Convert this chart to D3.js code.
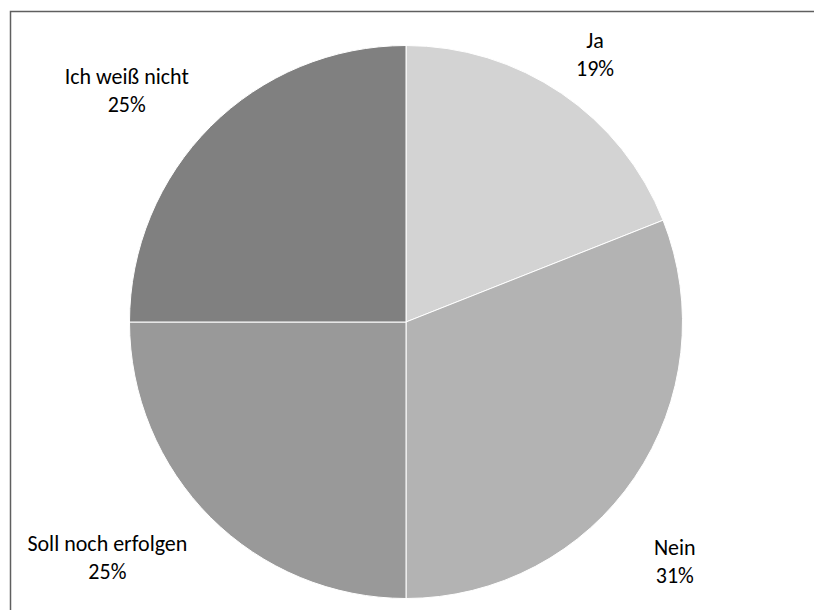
<!DOCTYPE html>
<html>
<head>
<meta charset="utf-8">
<script src="https://cdn.jsdelivr.net/npm/d3@7"></script>
<style>
  html, body { margin: 0; padding: 0; background: #fff; overflow: hidden; }
  svg { display: block; }
  text { font-family: Carlito, Calibri, Lato, "Open Sans", sans-serif; fill: #000; }
</style>
</head>
<body>
<svg id="chart" width="814" height="610"></svg>
<script>
// Survey answers and their shares (percent)
const categories = ["Ja", "Nein", "Soll noch erfolgen", "Ich weiß nicht"];
const shares = [19, 31, 25, 25];
const sliceColors = ["#d3d3d3", "#b3b3b3", "#999999", "#808080"];

// Label placement: distance from the centre and angular shift from each slice's middle
const labelDistance = [328, 360, 380, 363];
const labelShiftDeg = [1.0, 7.5, 6.8, -5.3];

const width = 814, height = 610;
const cx = 406, cy = 322, radius = 276.5;

const svg = d3.select("#chart");

// chart frame: only the top and left edges fall inside the view
svg.append("path")
  .attr("d", `M10.5,${height}V11.5H${width}`)
  .attr("fill", "none")
  .attr("stroke", "#5f5f5f")
  .attr("stroke-width", 1.5);

const data = categories.map((c, i) => ({ category: c, value: shares[i], color: sliceColors[i], i }));

const pie = d3.pie().value(d => d.value).sort(null);
const arc = d3.arc().innerRadius(0).outerRadius(radius);
const arcs = pie(data);

const g = svg.append("g").attr("transform", `translate(${cx},${cy})`);

g.selectAll("path.slice")
  .data(arcs)
  .join("path")
  .attr("class", "slice")
  .attr("d", arc)
  .attr("fill", d => d.data.color)
  .attr("stroke", "#ffffff")
  .attr("stroke-width", 1);

const labels = g.selectAll("g.label")
  .data(arcs)
  .join("g")
  .attr("class", "label")
  .attr("transform", d => {
    const a = (d.startAngle + d.endAngle) / 2 + labelShiftDeg[d.data.i] * Math.PI / 180;
    const r = labelDistance[d.data.i];
    return `translate(${r * Math.sin(a)},${-r * Math.cos(a)})`;
  });

labels.append("text")
  .attr("text-anchor", "middle")
  .attr("y", -14)
  .attr("dy", "0.35em")
  .style("font-size", "22px")
  .text(d => d.data.category);

labels.append("text")
  .attr("text-anchor", "middle")
  .attr("y", 14)
  .attr("dy", "0.35em")
  .style("font-size", "22px")
  .text(d => d.data.value + "%");
</script>
</body>
</html>
